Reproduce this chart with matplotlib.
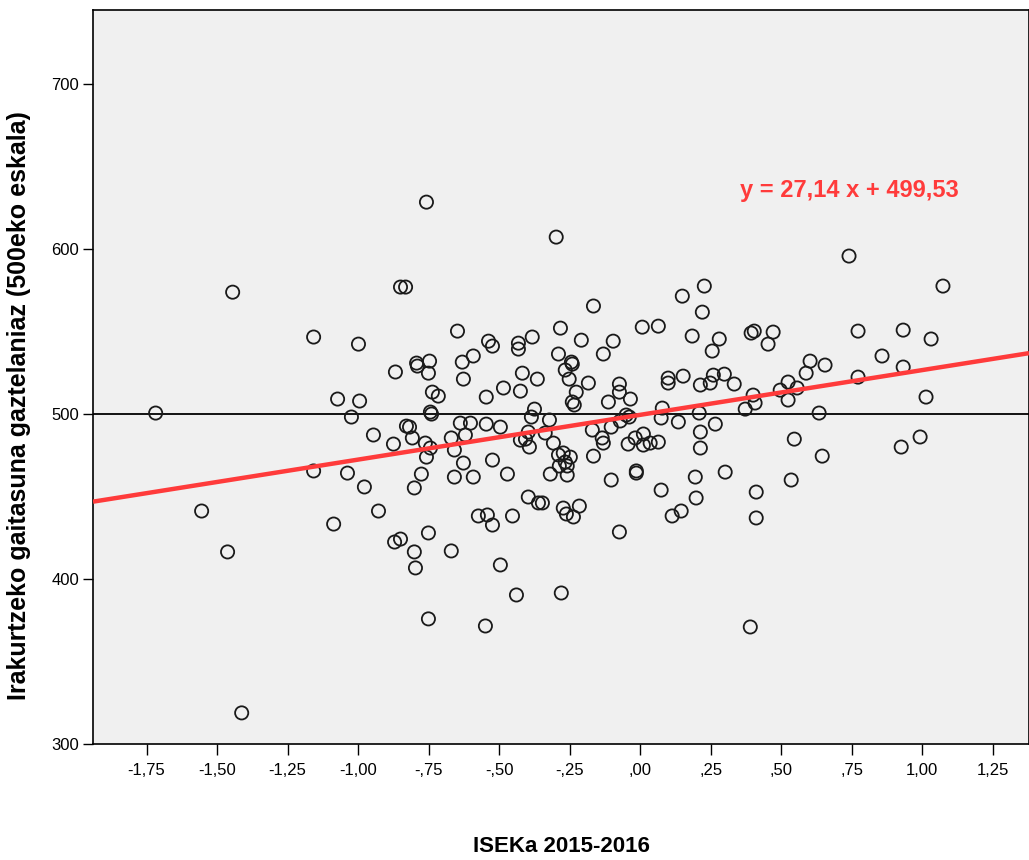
import matplotlib.pyplot as plt
import numpy as np

plt.rcParams['font.family'] = ['Liberation Sans', 'DejaVu Sans']

# ISEKa values (x) and reading score (y)
isek = [-1.718, -1.445, -1.158, -1.555, -1.463, -1.413, -1.158, -1.087, -1.038, -1.073,
        -1.024, -0.999, -0.995, -0.978, -0.928, -0.946, -0.875, -0.871, -0.850, -0.801,
        -0.797, -0.670, -0.751, -0.496, -0.439, -0.549, -0.758, -0.850, -0.832, -0.648,
        -0.538, -0.524, -0.432, -0.432, -0.383, -0.592, -0.631, -0.793, -0.747, -0.868,
        -0.790, -0.751, -0.627, -0.737, -0.716, -0.744, -0.740, -0.546, -0.485, -0.425,
        -0.418, -0.365, -0.375, -0.386, -0.829, -0.818, -0.808, -0.762, -0.744, -0.758,
        -0.638, -0.602, -0.620, -0.670, -0.659, -0.546, -0.496, -0.397, -0.425, -0.407,
        -0.393, -0.776, -0.801, -0.627, -0.659, -0.592, -0.524, -0.471, -0.397, -0.361,
        -0.574, -0.542, -0.524, -0.453, -0.751,
        -0.266, -0.241, -0.252, -0.184, -0.227, -0.241, -0.234, -0.074, -0.074, -0.113,
        -0.035, 0.099, 0.099, 0.152, 0.213, 0.248, 0.259, 0.298, 0.333, 0.372,
        0.078, 0.074, 0.135, 0.209, 0.266, 0.213, 0.213, -0.050, -0.039, -0.071,
        -0.103, -0.170, -0.322, -0.337, -0.308, -0.135, -0.131, -0.043, -0.018, 0.011,
        0.011, 0.035, 0.064, -0.166, -0.290, -0.273, -0.248, -0.287, -0.259, -0.259,
        -0.266, -0.319, -0.014, -0.014, -0.103, 0.195, 0.301, 0.074, 0.198, -0.347,
        -0.273, -0.262, -0.237, -0.216, 0.145, 0.113, -0.074, -0.280, 0.390,
        -0.298, -0.166, -0.283, -0.209, -0.096, -0.290, -0.244, -0.131, 0.007, 0.064,
        0.149, 0.227, 0.220, 0.184, 0.280, 0.255,
        0.740, 1.073, 0.393, 0.404, 0.471, 0.453, 0.772, 0.932, 1.031, 0.602,
        0.655, 0.857, 0.932,
        0.588, 0.524, 0.556, 0.496, 0.524, 0.400, 0.407, 0.772, 1.013, 0.634,
        0.546, 0.645, 0.925, 0.992, 0.535, 0.411, 0.411]
score = [500.6, 573.9, 546.7, 441.2, 416.4, 318.8, 465.5, 433.3, 464.2, 509.1,
         498.2, 542.4, 507.9, 455.8, 441.2, 487.3, 481.8, 422.4, 424.2, 416.4,
         406.7, 417.0, 375.8, 408.5, 390.3, 371.5, 628.5, 577.0, 577.0, 550.3,
         544.2, 541.2, 543.0, 539.4, 546.7, 535.2, 531.5, 530.9, 532.1, 525.5,
         529.1, 524.8, 521.2, 513.3, 510.9, 501.2, 500.0, 510.3, 515.8, 513.9,
         524.8, 521.2, 503.0, 498.2, 492.7, 492.1, 485.5, 482.4, 479.4, 473.9,
         494.5, 494.5, 487.3, 485.5, 478.2, 493.9, 492.1, 489.1, 484.2, 484.8,
         480.0, 463.6, 455.2, 470.3, 461.8, 461.8, 472.1, 463.6, 449.7, 446.1,
         438.2, 438.8, 432.7, 438.2, 427.9,
         526.7, 530.3, 521.2, 518.8, 513.3, 507.3, 505.5, 518.2, 513.3, 507.3,
         509.1, 521.8, 518.8, 523.0, 517.6, 518.8, 523.6, 524.2, 518.2, 503.0,
         503.6, 497.6, 495.2, 500.6, 493.9, 489.1, 479.4, 499.4, 498.2, 495.8,
         492.1, 490.3, 496.4, 488.5, 482.4, 485.5, 482.4, 481.8, 485.5, 487.9,
         481.2, 482.4, 483.0, 474.5, 475.2, 476.4, 473.9, 468.5, 468.5, 463.0,
         470.9, 463.6, 465.5, 464.2, 460.0, 461.8, 464.8, 453.9, 449.1, 446.1,
         443.0, 439.4, 437.6, 444.2, 441.2, 438.2, 428.5, 391.5, 370.9,
         607.3, 565.5, 552.1, 544.8, 544.2, 536.4, 531.5, 536.4, 552.7, 553.3,
         571.5, 577.6, 561.8, 547.3, 545.5, 538.2,
         595.8, 577.6, 549.1, 550.3, 549.7, 542.4, 550.3, 550.9, 545.5, 532.1,
         529.7, 535.2, 528.5,
         524.8, 519.4, 515.8, 514.5, 508.5, 511.5, 506.7, 522.4, 510.3, 500.6,
         484.8, 474.5, 480.0, 486.1, 460.0, 452.7, 437.0]

slope = 27.14
intercept = 499.53
ref_level = 500

xticks = [-1.75, -1.5, -1.25, -1.0, -0.75, -0.5, -0.25, 0.0, 0.25, 0.5, 0.75, 1.0, 1.25]
xlabels = ['-1,75', '-1,50', '-1,25', '-1,00', '-,75', '-,50', '-,25', ',00', ',25', ',50', ',75', '1,00', '1,25']
yticks = [300, 400, 500, 600, 700]

fig = plt.figure(figsize=(10.29, 8.6), dpi=100)
ax = fig.add_axes([0.0904, 0.135, 0.9096, 0.853])
ax.set_facecolor('#f0f0f0')

ax.set_xlim(-1.94, 1.378)
ax.set_ylim(300, 744.8)

ax.axhline(ref_level, color='black', lw=1.3, zorder=1)

ax.scatter(isek, score, s=90, facecolors='none', edgecolors='#1a1a1a', linewidths=1.3, zorder=3)

xs = np.array(ax.get_xlim())
ax.plot(xs, slope * xs + intercept, color='#ff3b3b', lw=3.2, zorder=4, solid_capstyle='butt')

ax.text(0.354, 635.8, 'y = 27,14 x + 499,53', color='#ff3b3b', fontsize=17,
        fontweight='bold', ha='left', va='center')

ax.set_xticks(xticks)
ax.set_xticklabels(xlabels, fontsize=12)
ax.set_yticks(yticks)
ax.set_yticklabels([str(v) for v in yticks], fontsize=12)
ax.tick_params(axis='x', length=8, pad=6, width=1)
ax.tick_params(axis='y', length=7, pad=3, width=1)

for sp in ax.spines.values():
    sp.set_color('black')
    sp.set_linewidth(1.2)

fig.text(561 / 1029, 1 - 846 / 860, 'ISEKa 2015-2016', fontsize=16, fontweight='bold',
         ha='center', va='center')
fig.text(19 / 1029, 1 - 406 / 860, 'Irakurtzeko gaitasuna gaztelaniaz (500eko eskala)',
         fontsize=18, fontweight='bold', rotation=90, ha='center', va='center')

fig.savefig('out.png', dpi=100, facecolor='white')
